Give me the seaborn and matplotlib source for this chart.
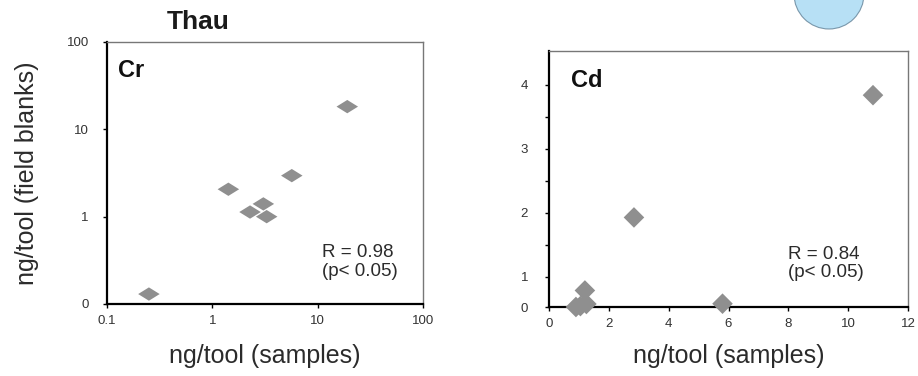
import numpy as np
import pandas as pd
import matplotlib
matplotlib.use("Agg")
import matplotlib.pyplot as plt
import seaborn as sns
from matplotlib.patches import Ellipse

# Données (ng/outil)
cr_samples = [0.25, 1.42, 2.28, 3.05, 3.28, 5.68, 19.1]
cr_blanks = [0.13, 2.06, 1.13, 1.40, 1.00, 2.95, 18.2]

cd_samples = [0.9, 1.05, 1.25, 1.2, 2.84, 5.8, 10.83]
cd_blanks = [0.0, 0.03, 0.10, 0.55, 1.93, 0.11, 3.84]

cr_ticks = [0.1, 1, 10, 100]
cr_ticklabels = ["0.1", "1", "10", "100"]
cr_yticklabels = ["0", "1", "10", "100"]
cd_xticks = [0, 2, 4, 6, 8, 10, 12]
cd_yticks = [0, 1, 2, 3, 4]

df_cr = pd.DataFrame({"samples": cr_samples, "blanks": cr_blanks})
df_cd = pd.DataFrame({"samples": cd_samples, "blanks": cd_blanks})

sns.set_style("white")
plt.rcParams['font.family'] = ['Liberation Sans', 'DejaVu Sans']

fig = plt.figure(figsize=(9.18, 3.76), dpi=100)
W, H = 918, 376
ax1 = fig.add_axes([107 / W, 1 - 304 / H, (423 - 107) / W, (304 - 42) / H])
ax2 = fig.add_axes([549 / W, 1 - 307 / H, (908 - 549) / W, (307 - 51) / H])

grey = "#8f8f8f"
txt = "#2b2b2b"
flat_diamond = [(-1, 0), (0, 0.62), (1, 0), (0, -0.62), (-1, 0)]

# --- Cr (log-log) ---
sns.scatterplot(data=df_cr, x="samples", y="blanks", ax=ax1, marker=flat_diamond,
                s=240, color=grey, edgecolor="none", clip_on=False, zorder=3)
ax1.set_xscale("log")
ax1.set_yscale("log")
ax1.set_xlim(0.1, 100)
ax1.set_ylim(0.1, 100)
ax1.set_xticks(cr_ticks)
ax1.set_xticklabels(cr_ticklabels)
ax1.set_yticks(cr_ticks)
ax1.set_yticklabels(cr_yticklabels)
ax1.minorticks_off()
ax1.text(0.035, 0.935, "Cr", transform=ax1.transAxes, fontsize=17, fontweight="bold",
         va="top", ha="left", color="#111111")
ax1.text(0.68, 0.16, "R = 0.98\n(p< 0.05)", transform=ax1.transAxes, fontsize=13.5,
         va="center", ha="left", color=txt, linespacing=1.15)
ax1.set_xlabel("ng/tool (samples)", fontsize=18, color=txt, labelpad=12)
ax1.set_ylabel("ng/tool (field blanks)", fontsize=18, color=txt, labelpad=20)

# --- Cd (axe y non linéaire entre 0 et 1) ---
def fwd(y):
    return np.interp(y, [-1, 0, 1, 10], [-0.469, 0, 0.469, 9.469])

def inv(t):
    return np.interp(t, [-0.469, 0, 0.469, 9.469], [-1, 0, 1, 10])

ax2.set_yscale("function", functions=(fwd, inv))
sns.scatterplot(data=df_cd, x="samples", y="blanks", ax=ax2, marker="D",
                s=110, color=grey, edgecolor="none", clip_on=False, zorder=3)
ax2.set_xlim(0, 12)
ax2.set_ylim(0, 4.53)
ax2.set_xticks(cd_xticks)
ax2.set_yticks(cd_yticks)
ax2.set_yticks([1.5, 2.5, 3.5], minor=True)
ax2.text(0.06, 0.93, "Cd", transform=ax2.transAxes, fontsize=17, fontweight="bold",
         va="top", ha="left", color="#111111")
ax2.text(0.665, 0.17, "R = 0.84\n(p< 0.05)", transform=ax2.transAxes, fontsize=13.5,
         va="center", ha="left", color=txt, linespacing=1.15)
ax2.set_xlabel("ng/tool (samples)", fontsize=18, color=txt, labelpad=10)
ax2.set_ylabel("")

for ax in (ax1, ax2):
    for side in ("left", "bottom"):
        ax.spines[side].set_color("black")
        ax.spines[side].set_linewidth(1.6)
    for side in ("top", "right"):
        ax.spines[side].set_color("#777777")
        ax.spines[side].set_linewidth(1.0)
    ax.tick_params(axis="both", which="both", direction="out", length=3, width=1,
                   bottom=True, left=True, labelsize=9.5, colors="black",
                   labelcolor="#333333", pad=5)
ax1.tick_params(axis="y", pad=10)
ax2.tick_params(axis="y", pad=12)

fig.text(198 / W, 1 - 22 / H, "Thau", fontsize=19, fontweight="bold",
         ha="center", va="center", color="#1a1a1a")

# fragment du logo en haut à droite
fig.patches.append(Ellipse((829 / W, 1 + 6 / H), 70 / W, 70 / H,
                           transform=fig.transFigure, facecolor="#9fd6f2",
                           edgecolor="#5a7a90", linewidth=0.8, alpha=0.75))

fig.savefig("out.png", dpi=100)
